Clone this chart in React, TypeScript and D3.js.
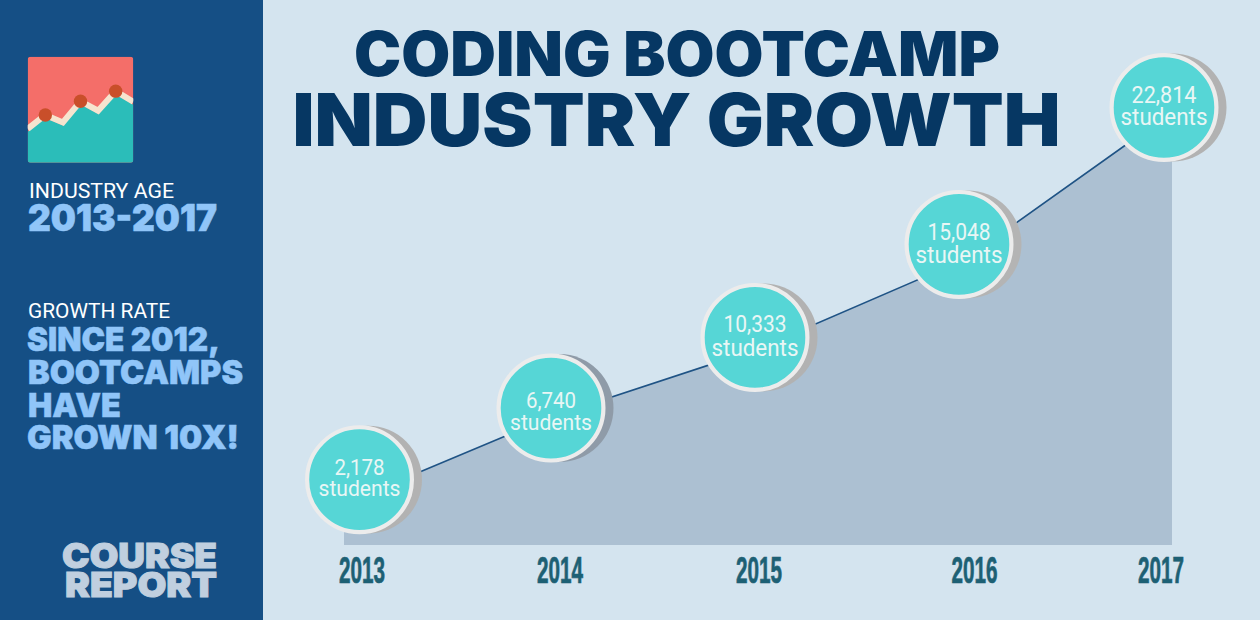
import React from "react";
import * as d3 from "d3";

// ---- data ----
const years = ["2013", "2014", "2015", "2016", "2017"];
const students = [2178, 6740, 10333, 15048, 22814];
const iconTrend = [32, 45, 38, 58, 49, 67.5, 57.5];
const iconDots = [1, 3, 5];

// ---- layout: hand placement of the infographic's badges around the plotted points ----
const badgeDx = [15.5, 0, -3, -6, -8];
const badgeDy = [-24, -9, -11.5, -15, -4.5];
const yearDx = [18, 9, 1, 9.5, -11];
const badgeFont = [21.5, 21.5, 23, 23, 23];
const badgeWidths = [[50, 82], [50, 82], [63, 87], [63, 87], [65, 87]];
const badgeLines = [[-5, 16], [0, 22], [-5, 18.5], [-4.7, 18.7], [-5, 17.5]];
const shadowColors = ["#b2b2b2", "#8f9ba8", "#b2b2b2", "#b4b4b4", "#b2b2b2"];

const W = 1260, H = 620, SIDE = 263;
const HEAVY = "Inter, 'Open Sans', sans-serif";
const DIN = "Roboto, sans-serif";
const NARROW = "'Liberation Sans Narrow', 'Liberation Sans', sans-serif";

const x = d3.scalePoint<string>().domain(years).range([344, 1172]);
const y = d3.scaleLinear().domain([0, 22814]).range([545, 112]);
const rows = years.map((yr, i) => ({ yr, v: students[i], i }));
const lineGen = d3.line<(typeof rows)[number]>().x(d => x(d.yr)!).y(d => y(d.v));
const areaGen = d3.area<(typeof rows)[number]>().x(d => x(d.yr)!).y0(y(0)).y1(d => y(d.v));

const ix = d3.scaleLinear().domain([0, iconTrend.length - 1]).range([27.7, 133.3]);
const iy = d3.scaleLinear().domain([0, 100]).range([162.7, 56.7]);
const iconLine = d3.line<number>().x((_, i) => ix(i)).y(d => iy(d));
const iconArea = d3.area<number>().x((_, i) => ix(i)).y0(iy(0)).y1(d => iy(d) + 3);

type TProps = { x: number; y: number; w: number; size: number; fill: string; font: string; weight?: number; anchor?: string; bold?: number; children: string };
function T({ x, y, w, size, fill, font, weight = 400, anchor = "start", bold = 0, children }: TProps) {
  return (
    <text x={x} y={y} textLength={w} lengthAdjust="spacingAndGlyphs" fontSize={size} fontFamily={font} fontWeight={weight} fill={fill} textAnchor={anchor as any} stroke={bold ? fill : "none"} strokeWidth={bold}>
      {children}
    </text>
  );
}

export default function App() {
  return (
    <svg width={W} height={H} viewBox={`0 0 ${W} ${H}`} style={{ position: "absolute", left: 0, top: 0, display: "block" }}>
      <defs>
        <clipPath id="icon"><rect x={27.7} y={56.7} width={105.6} height={106} rx={3} /></clipPath>
      </defs>
      <rect width={W} height={H} fill="#d4e4ef" />
      <rect width={SIDE} height={H} fill="#154f85" />

      <g clipPath="url(#icon)">
        <rect x={27.7} y={56.7} width={105.6} height={106} fill="#f46e69" />
        <path d={iconArea(iconTrend)!} fill="#2bbdb9" />
        <path d={iconLine(iconTrend)!} fill="none" stroke="#f6e4cf" strokeWidth={6} />
        {iconDots.map(i => <circle key={i} cx={ix(i)} cy={iy(iconTrend[i])} r={6.7} fill="#c94f2a" />)}
      </g>

      <T x={29} y={198} w={145} size={20} fill="#ffffff" font={DIN}>INDUSTRY AGE</T>
      <T x={28} y={231} w={189} size={37} fill="#90c5f8" font={HEAVY} weight={900} bold={0.6}>2013-2017</T>
      <T x={28} y={318} w={142} size={20} fill="#ffffff" font={DIN}>GROWTH RATE</T>
      <T x={27} y={350.5} w={193} size={32.5} fill="#90c5f8" font={HEAVY} weight={900} bold={0.5}>SINCE 2012,</T>
      <T x={28} y={384} w={215} size={32.5} fill="#90c5f8" font={HEAVY} weight={900} bold={0.5}>BOOTCAMPS</T>
      <T x={28} y={416.5} w={93} size={32.5} fill="#90c5f8" font={HEAVY} weight={900} bold={0.5}>HAVE</T>
      <T x={27} y={449} w={212} size={32.5} fill="#90c5f8" font={HEAVY} weight={900} bold={0.5}>GROWN 10X!</T>
      <T x={62} y={568} w={155} size={34} fill="#c0cfdf" font={HEAVY} weight={900} bold={1}>COURSE</T>
      <T x={65} y={597} w={152} size={34} fill="#c0cfdf" font={HEAVY} weight={900} bold={1}>REPORT</T>

      <T x={354} y={75.5} w={646} size={61.5} fill="#063763" font={HEAVY} weight={900}>CODING BOOTCAMP</T>
      <T x={292.5} y={146.3} w={768} size={73.5} fill="#063763" font={HEAVY} weight={900}>INDUSTRY GROWTH</T>

      <path d={areaGen(rows)!} fill="#acc0d2" />
      <path d={lineGen(rows)!} fill="none" stroke="#1f5385" strokeWidth={1.6} />

      {rows.map(d => {
        const cx = x(d.yr)! + badgeDx[d.i];
        const cy = y(d.v) + badgeDy[d.i];
        return (
          <g key={d.yr}>
            <circle cx={cx + 8.5} cy={cy} r={54} fill={shadowColors[d.i]} />
            <circle cx={cx} cy={cy} r={52.4} fill="#56d6d6" stroke="#ececec" strokeWidth={4.2} />
            <T x={cx} y={cy + badgeLines[d.i][0]} w={badgeWidths[d.i][0]} size={badgeFont[d.i]} fill="#e9f6f5" font={DIN} anchor="middle">{d3.format(",")(d.v)}</T>
            <T x={cx} y={cy + badgeLines[d.i][1]} w={badgeWidths[d.i][1]} size={badgeFont[d.i]} fill="#e9f6f5" font={DIN} anchor="middle">students</T>
          </g>
        );
      })}

      {rows.map(d => (
        <T key={d.yr} x={x(d.yr)! + yearDx[d.i]} y={583} w={46} size={36} fill="#1d6074" font={NARROW} weight={700} anchor="middle" bold={0.7}>{d.yr}</T>
      ))}
    </svg>
  );
}
